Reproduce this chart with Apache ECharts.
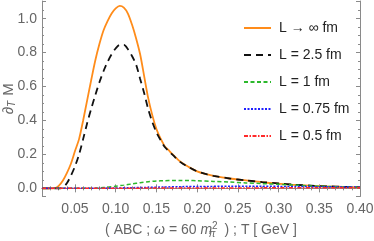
<!DOCTYPE html>
<html>
<head>
<meta charset="utf-8">
<script src="https://cdn.jsdelivr.net/npm/echarts@6/dist/echarts.min.js"></script>
<style>
html,body{margin:0;padding:0;background:#fff;}
#chart{width:374px;height:241px;}
</style>
</head>
<body>
<div id="chart"></div>
<script>
// ---- data ----
var seriesNames = ['L \u2192 \u221e fm', 'L = 2.5 fm', 'L = 1 fm', 'L = 0.75 fm', 'L = 0.5 fm'];

var tInf = [0.01,0.02,0.025,0.03,0.035,0.04,0.045,0.05,0.055,0.06,0.065,0.07,0.075,0.08,0.085,0.09,0.095,0.10,0.105,0.11,0.115,0.12,0.125,0.13,0.135,0.14,0.145,0.15,0.155,0.16,0.165,0.17,0.18,0.19,0.20,0.21,0.22,0.24,0.26,0.28,0.30,0.32,0.34,0.36,0.38,0.40];
var vInf = [0,0,0.001,0.015,0.045,0.09,0.145,0.22,0.29,0.40,0.52,0.64,0.755,0.85,0.93,0.985,1.03,1.06,1.075,1.065,1.03,0.965,0.885,0.79,0.66,0.53,0.43,0.35,0.295,0.25,0.225,0.2,0.155,0.125,0.10,0.085,0.074,0.058,0.047,0.036,0.028,0.02,0.015,0.011,0.008,0.006];

var t25 = [0.01,0.02,0.03,0.035,0.04,0.045,0.05,0.055,0.06,0.065,0.07,0.075,0.08,0.085,0.09,0.095,0.10,0.105,0.11,0.115,0.12,0.125,0.13,0.135,0.14,0.145,0.15,0.155,0.16,0.165,0.17,0.18,0.19,0.20,0.21,0.22,0.24,0.26,0.28,0.30,0.32,0.34,0.36,0.38,0.40];
var v25 = [0,0,0,0.005,0.03,0.075,0.13,0.2,0.29,0.385,0.47,0.55,0.625,0.69,0.745,0.79,0.825,0.845,0.845,0.82,0.78,0.73,0.645,0.56,0.465,0.39,0.33,0.285,0.245,0.22,0.197,0.153,0.124,0.10,0.085,0.074,0.058,0.047,0.037,0.029,0.021,0.016,0.012,0.009,0.006];

var t1 = [0.01,0.05,0.07,0.08,0.09,0.10,0.11,0.12,0.13,0.14,0.15,0.16,0.17,0.18,0.19,0.20,0.22,0.24,0.26,0.28,0.30,0.32,0.34,0.36,0.38,0.40];
var v1 = [0,0,0,0.003,0.007,0.013,0.019,0.026,0.033,0.039,0.043,0.045,0.046,0.046,0.046,0.045,0.041,0.037,0.032,0.028,0.024,0.019,0.014,0.011,0.008,0.006];

var t075 = [0.01,0.06,0.08,0.10,0.12,0.14,0.16,0.18,0.20,0.24,0.28,0.32,0.36,0.40];
var v075 = [0,0,0.001,0.002,0.004,0.006,0.008,0.01,0.011,0.012,0.012,0.011,0.009,0.007];

var t05 = [0.01,0.08,0.10,0.15,0.20,0.25,0.30,0.35,0.40];
var v05 = [0,0,0.001,0.0015,0.002,0.0025,0.003,0.003,0.003];

function pairs(ts, vs){ return ts.map(function(t,i){ return [t, vs[i]]; }); }

var chart = echarts.init(document.getElementById('chart'), null, {renderer:'canvas'});
var FONT = 'Liberation Sans';
var frameColor = '#8a8a8a';
var labelColor = '#666';

function lineSeries(name, data, color, type, width){
  return {
    name: name, type: 'line', data: data, smooth: 0.3, symbol: 'none', showSymbol: false,
    lineStyle: {color: color, width: width, type: type},
    itemStyle: {color: color},
    xAxisIndex: 0, yAxisIndex: 0, z: 3
  };
}

var option = {
  animation: false,
  backgroundColor: '#fff',
  grid: {left: 42, right: 14, top: 1, bottom: 44.5, containLabel: false, outerBoundsMode: 'none'},
  legend: {
    orient: 'vertical', left: 243, top: 21, padding: 0,
    itemWidth: 27, itemHeight: 12, itemGap: 13,
    itemStyle: {opacity: 0},
    textStyle: {fontFamily: FONT, fontSize: 14, color: '#222', padding: [0,0,0,3]},
    data: seriesNames
  },
  xAxis: [{
    type: 'value', min: 0.0095, max: 0.40, splitNumber: 8,
    axisLine: {show: true, lineStyle: {color: frameColor, width: 1}},
    axisTick: {show: true, inside: true, length: 4, lineStyle: {color: frameColor}},
    minorTick: {show: true, splitNumber: 5, length: 2, lineStyle: {color: frameColor}},
    splitLine: {show: false},
    axisLabel: {showMinLabel: false, showMaxLabel: true, margin: 6, color: labelColor, fontFamily: FONT, fontSize: 14,
      formatter: function(v){ return v.toFixed(2); }},
    name: '( ABC ; {it|\u03c9} = 60 {it|m}{sub|\u03c0}{sup|2} ) ; T [ GeV ]',
    nameLocation: 'middle', nameGap: 25,
    nameTextStyle: {fontFamily: FONT, fontSize: 14, color: labelColor,
      rich: {
        it: {fontFamily: FONT, fontSize: 14, fontStyle: 'italic', color: labelColor},
        sub: {fontFamily: FONT, fontSize: 10, fontStyle: 'italic', color: labelColor, width: 0, padding: [8,0,0,0]},
        sup: {fontFamily: FONT, fontSize: 10, color: labelColor, padding: [0,3,8,0]}
      }}
  },{
    type: 'value', position: 'top', min: 0.0095, max: 0.40, splitNumber: 8,
    axisLine: {show: true, lineStyle: {color: frameColor, width: 1}},
    axisTick: {show: true, inside: true, length: 4, lineStyle: {color: frameColor}},
    minorTick: {show: true, splitNumber: 5, length: 2, lineStyle: {color: frameColor}},
    splitLine: {show: false}, axisLabel: {show: false}
  }],
  yAxis: [{
    type: 'value', min: -0.048, max: 1.104, splitNumber: 5,
    axisLine: {show: true, lineStyle: {color: frameColor, width: 1}},
    axisTick: {show: true, inside: true, length: 4, lineStyle: {color: frameColor}},
    minorTick: {show: true, splitNumber: 4, length: 2, lineStyle: {color: frameColor}},
    splitLine: {show: false},
    axisLabel: {showMinLabel: false, showMaxLabel: false, margin: 5, color: labelColor, fontFamily: FONT, fontSize: 14,
      formatter: function(v){ return v.toFixed(1); }},
    name: '\u2202{sub|T} M', nameLocation: 'middle', nameGap: 25, nameRotate: 90, nameMoveOverlap: false,
    nameTextStyle: {fontFamily: FONT, fontSize: 15, color: labelColor,
      rich: {sub: {fontFamily: FONT, fontSize: 10, fontStyle: 'italic', color: labelColor, padding: [7,1,0,0]}}}
  },{
    type: 'value', position: 'right', min: -0.048, max: 1.104, splitNumber: 5,
    axisLine: {show: true, lineStyle: {color: frameColor, width: 1}},
    axisTick: {show: true, inside: true, length: 4, lineStyle: {color: frameColor}},
    minorTick: {show: true, splitNumber: 4, length: 2, lineStyle: {color: frameColor}},
    splitLine: {show: false}, axisLabel: {show: false}
  }],
  series: [
    lineSeries(seriesNames[0], pairs(tInf, vInf), '#ff8c1a', 'solid', 1.8),
    lineSeries(seriesNames[1], pairs(t25, v25), '#111111', [7,5], 1.8),
    lineSeries(seriesNames[2], pairs(t1, v1), '#2cb82c', [4,2.5], 1.5),
    lineSeries(seriesNames[3], pairs(t075, v075), '#1f1fff', [2,1.5], 1.5),
    lineSeries(seriesNames[4], pairs(t05, v05), '#ff2a2a', [4,1.5,1.5,1.5], 1.5)
  ]
};
chart.setOption(option);
</script>
</body>
</html>
